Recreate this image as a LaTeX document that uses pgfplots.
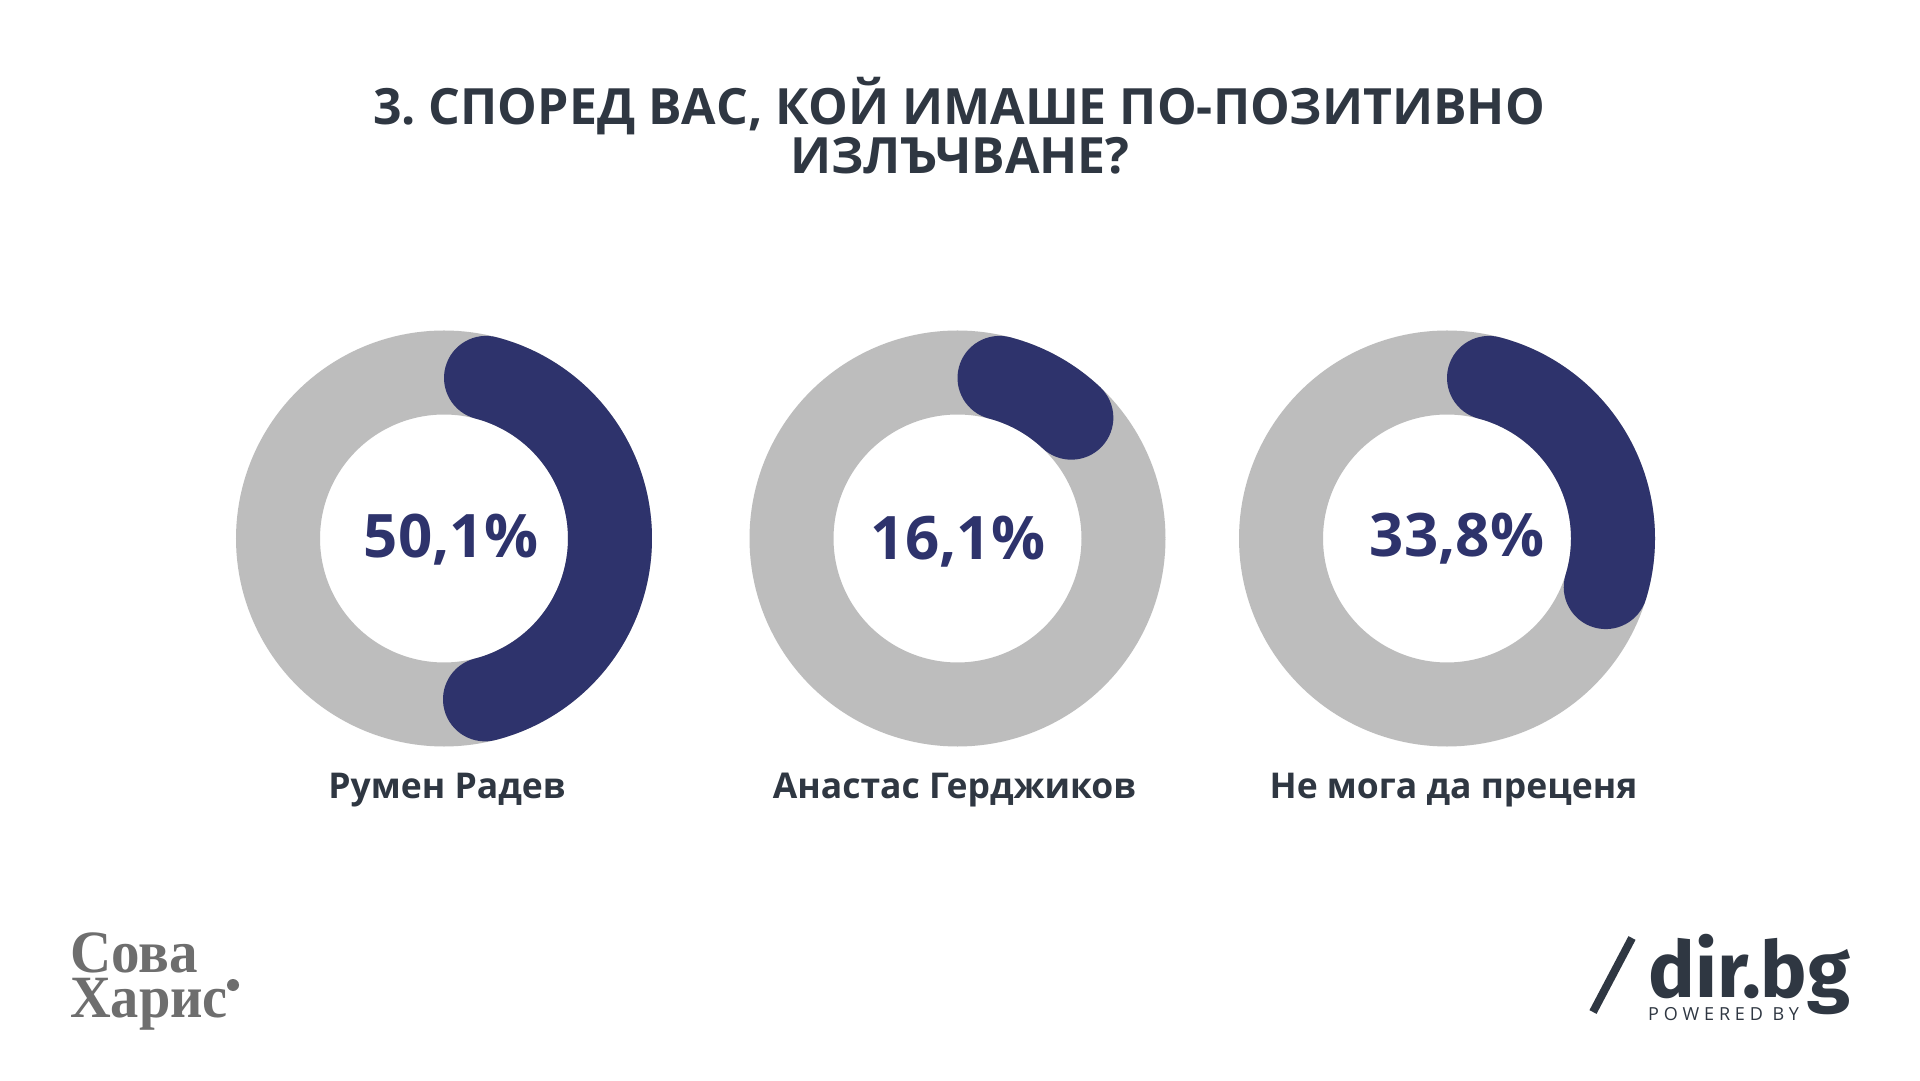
\documentclass[border=0pt]{standalone}
\usepackage{fontspec}
\usepackage{pgfplots}
\usepackage{pgfplotstable}
\pgfplotsset{compat=1.18}
\setmainfont{Open Sans}
\newfontfamily\firasans{Fira Sans}
\newfontfamily\timesl{Liberation Serif}
\frenchspacing

\definecolor{ringgrey}{HTML}{BDBDBD}
\definecolor{navy}{HTML}{2E336C}
\definecolor{ink}{HTML}{2F3742}
\definecolor{logogrey}{HTML}{6E6E6E}

% shares of answers, percent
\pgfplotstableread{
idx value
0 50.1
1 16.1
2 33.8
}\answers

\pgfplotstablegetelem{0}{value}\of\answers \let\valA\pgfplotsretval
\pgfplotstablegetelem{1}{value}\of\answers \let\valB\pgfplotsretval
\pgfplotstablegetelem{2}{value}\of\answers \let\valC\pgfplotsretval

% the rounded caps reach 14.66 degrees past each end of the arc
\pgfmathsetmacro\capdeg{14.66}
\pgfmathsetmacro\startdeg{90-\capdeg}
\pgfmathsetmacro\endA{90+\capdeg-3.6*\valA}
\pgfmathsetmacro\endB{90+\capdeg-3.6*\valB}
\pgfmathsetmacro\endC{90+\capdeg-3.6*\valC}

\pgfplotsset{
  donut/.style={
    scale only axis, width=431.6pt, height=431.6pt,
    xmin=-1.3, xmax=1.3, ymin=-1.3, ymax=1.3,
    hide axis, clip=false, anchor=center,
  },
  ring/.style={ringgrey, line width=84pt, line cap=round, no marks, samples=181, domain=0:360},
  share/.style={navy, line width=84pt, line cap=round, no marks, samples=120},
}

\begin{document}
\begin{tikzpicture}[x=1pt,y=1pt]
\path[use as bounding box, fill=white] (0,0) rectangle (1920,1080);

% title
\node[anchor=base, text=ink, font=\fontsize{50}{60}\selectfont\bfseries] at (959,955) {3. СПОРЕД ВАС, КОЙ ИМАШЕ ПО-ПОЗИТИВНО};
\node[anchor=base, text=ink, font=\fontsize{50}{60}\selectfont\bfseries] at (960,906) {ИЗЛЪЧВАНЕ?};

\begin{axis}[donut, at={(444pt,541.5pt)}]
  \addplot[ring] ({cos(x)},{sin(x)});
  \addplot[share, domain=\endA:\startdeg] ({cos(x)},{sin(x)});
\end{axis}
\begin{axis}[donut, at={(957.5pt,541.5pt)}]
  \addplot[ring] ({cos(x)},{sin(x)});
  \addplot[share, domain=\endB:\startdeg] ({cos(x)},{sin(x)});
\end{axis}
\begin{axis}[donut, at={(1447pt,541.5pt)}]
  \addplot[ring] ({cos(x)},{sin(x)});
  \addplot[share, domain=\endC:\startdeg] ({cos(x)},{sin(x)});
\end{axis}

% values in the middle
\tikzset{pct/.style={anchor=base, text=navy, font=\fontsize{60}{60}\selectfont\bfseries}}
\node[pct] at (451,522) {\pgfmathprintnumber[fixed,fixed zerofill,precision=1,use comma,assume math mode=true]{\valA}\%};
\node[pct] at (958,520) {\pgfmathprintnumber[fixed,fixed zerofill,precision=1,use comma,assume math mode=true]{\valB}\%};
\node[pct] at (1457,523) {\pgfmathprintnumber[fixed,fixed zerofill,precision=1,use comma,assume math mode=true]{\valC}\%};

% names
\tikzset{lab/.style={anchor=base, text=ink, font=\fontsize{35.5}{40}\selectfont\bfseries}}
\node[lab] at (447,282) {Румен Радев};
\node[lab] at (954.5,282) {Анастас Герджиков};
\node[lab] at (1453.5,282) {Не мога да преценя};

% Сова Харис logo
\node[anchor=base west, inner sep=0pt, text depth=0pt, text=logogrey, font=\fontsize{60}{60}\selectfont\timesl\bfseries, xscale=0.95] at (70,108) {Сова};
\node[anchor=base west, inner sep=0pt, text height=38pt, text=logogrey, font=\fontsize{60}{60}\selectfont\timesl\bfseries, xscale=0.94] at (70,63) {Харис};
\fill[logogrey] (233,95) circle (6);

% dir.bg logo
\draw[ink, line width=8pt] (1632,142) -- (1593,68);
\node[anchor=base west, inner sep=0pt, text depth=0pt, text=ink, font=\fontsize{78}{78}\selectfont\firasans\bfseries] at (1648,83) {dir.bg};
\node[anchor=base west, inner sep=0pt, text=ink, font=\fontsize{18}{18}\selectfont\addfontfeatures{LetterSpace=27}] at (1648,60) {POWERED BY};
\end{tikzpicture}
\end{document}
